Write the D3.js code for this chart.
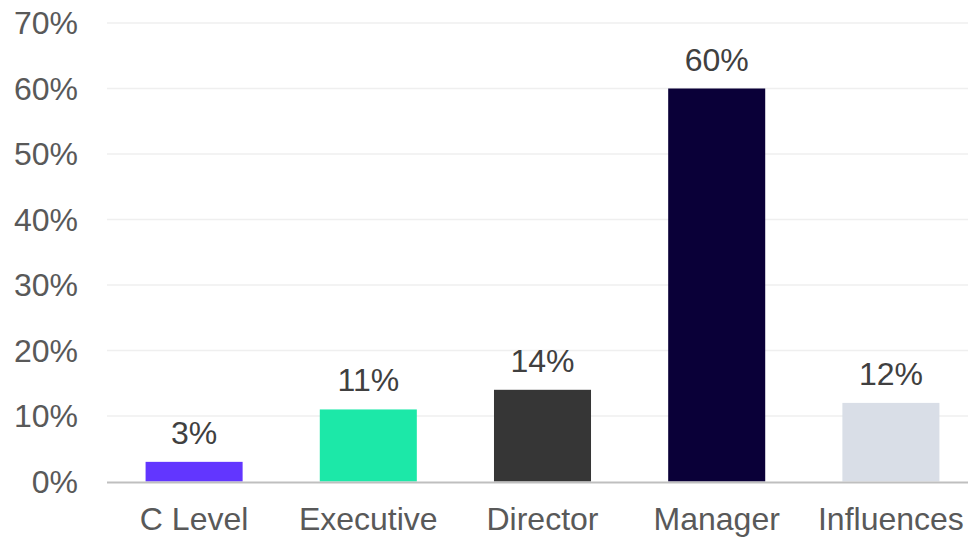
<!DOCTYPE html>
<html>
<head>
<meta charset="utf-8">
<script src="https://cdn.jsdelivr.net/npm/d3@7"></script>
<style>
  html, body { margin: 0; padding: 0; background: #fff; }
  svg { display: block; font-family: Arial, "Liberation Sans", sans-serif; }
</style>
</head>
<body>
<div id="chart"></div>
<script>
const kategorije = ["C Level", "Executive", "Director", "Manager", "Influences"];
const vrijednosti = [0.03, 0.11, 0.14, 0.60, 0.12];
const boje = ["#6236ff", "#1ce8a8", "#363636", "#0a0038", "#d9dee7"];
const yTickovi = [0, 0.1, 0.2, 0.3, 0.4, 0.5, 0.6, 0.7];

const sirina = 968, visina = 538;
const okvir = d3.select("#chart").append("svg")
    .attr("width", sirina)
    .attr("height", visina);

const x = d3.scaleBand()
    .domain(kategorije)
    .range([107, 978])
    .paddingInner(0.443)
    .paddingOuter(0.2215);

const y = d3.scaleLinear()
    .domain([0, 0.7])
    .range([481.5, 23]);

const fmt = d3.format(".0%");

// grid
okvir.append("g")
    .selectAll("line")
    .data(yTickovi.filter(d => d > 0))
    .enter().append("line")
    .attr("x1", 107)
    .attr("x2", sirina)
    .attr("y1", d => y(d))
    .attr("y2", d => y(d))
    .attr("stroke", "#efefef")
    .attr("stroke-width", 1.5);

// y labels
okvir.append("g")
    .selectAll("text")
    .data(yTickovi)
    .enter().append("text")
    .attr("x", 78)
    .attr("y", d => y(d) + 11)
    .attr("text-anchor", "end")
    .attr("font-size", 32)
    .attr("fill", "#595959")
    .text(d => fmt(d));

// bars
okvir.append("g")
    .selectAll("rect")
    .data(kategorije)
    .enter().append("rect")
    .attr("x", d => x(d))
    .attr("width", x.bandwidth())
    .attr("y", (d, i) => y(vrijednosti[i]))
    .attr("height", (d, i) => y(0) - y(vrijednosti[i]))
    .attr("fill", (d, i) => boje[i]);

// baseline
okvir.append("line")
    .attr("x1", 107)
    .attr("x2", sirina)
    .attr("y1", y(0) + 1)
    .attr("y2", y(0) + 1)
    .attr("stroke", "#bfbfbf")
    .attr("stroke-width", 2);

// value labels
okvir.append("g")
    .selectAll("text")
    .data(kategorije)
    .enter().append("text")
    .attr("x", d => x(d) + x.bandwidth() / 2)
    .attr("y", (d, i) => y(vrijednosti[i]) - 18)
    .attr("text-anchor", "middle")
    .attr("font-size", 32)
    .attr("fill", "#404040")
    .text((d, i) => fmt(vrijednosti[i]));

// category labels
okvir.append("g")
    .selectAll("text")
    .data(kategorije)
    .enter().append("text")
    .attr("x", d => x(d) + x.bandwidth() / 2)
    .attr("y", 530)
    .attr("text-anchor", "middle")
    .attr("font-size", 32)
    .attr("fill", "#595959")
    .text(d => d);
</script>
</body>
</html>
